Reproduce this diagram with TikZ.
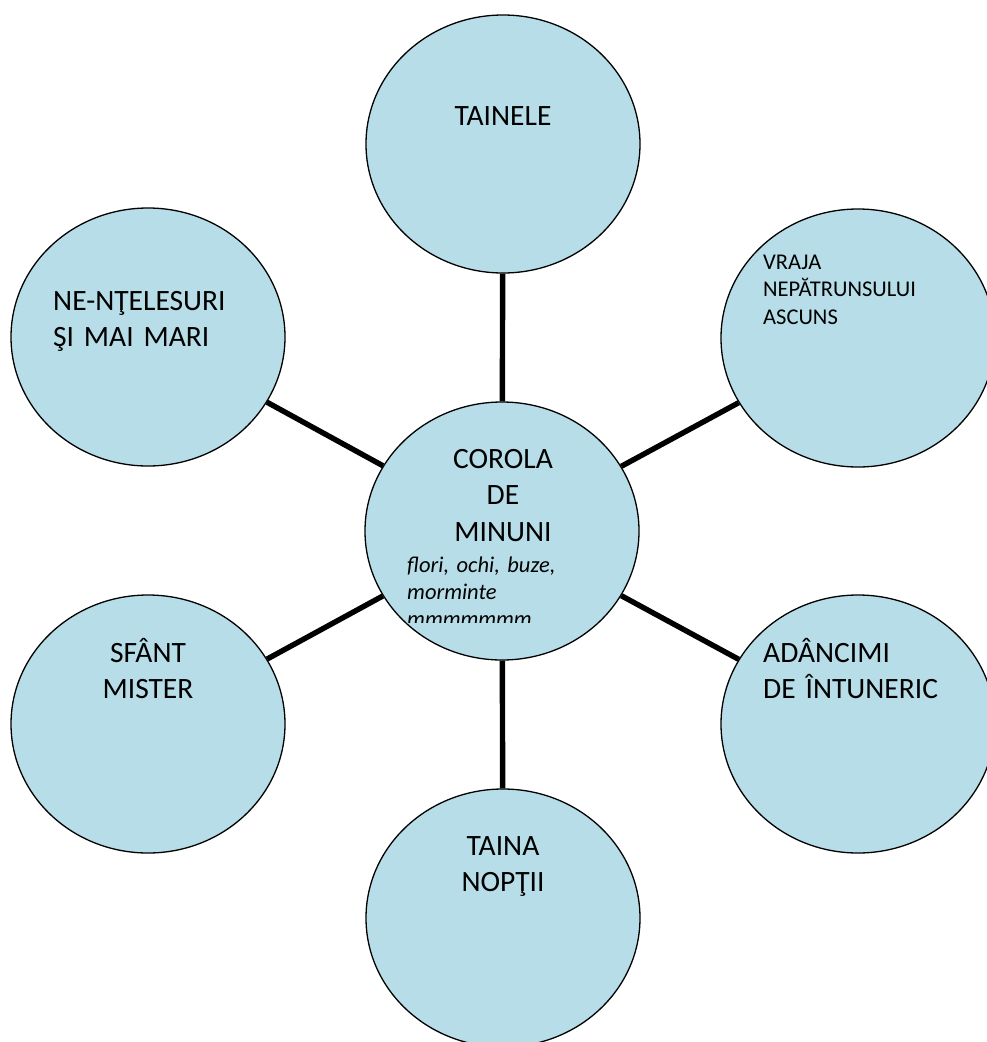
\documentclass[tikz,border=0pt]{standalone}
\usepackage{fontspec}
\setmainfont{Carlito}
\usepackage{xcolor}
\usepackage{tikz}
\usetikzlibrary{shapes.geometric,positioning}

\definecolor{bubblefill}{RGB}{183,222,232}

\begin{document}
\begin{tikzpicture}[
    x=1pt, y=-1pt,
    bubble/.style={ellipse, draw, line width=1.3pt, fill=bubblefill, minimum width=274pt, minimum height=258pt, inner sep=0pt},
    link/.style={line width=5.4pt},
    lbl/.style={inner sep=0pt, text width=230pt, font=\fontsize{29.5}{36.5}\selectfont},
    smalllbl/.style={inner sep=0pt, text width=200pt, font=\fontsize{22.5}{27.5}\selectfont}
]
\useasboundingbox (0,0) rectangle (986,1042);

% Bubbles
\node[bubble] (corola) at (502,531) {};
\node[bubble] (tainele) at (503,144) {};
\node[bubble] (vraja) at (858,338) {};
\node[bubble] (adancimi) at (858,724) {};
\node[bubble] (taina) at (503,918) {};
\node[bubble] (sfant) at (148,724) {};
\node[bubble] (neintelesuri) at (148,337) {};

% Links
\draw[link] (corola) -- (tainele);
\draw[link] (corola) -- (vraja);
\draw[link] (corola) -- (adancimi);
\draw[link] (corola) -- (taina);
\draw[link] (corola) -- (sfant);
\draw[link] (corola) -- (neintelesuri);

% Labels
\node[lbl, align=center, anchor=base] (corola-txt) at (503,468) {COROLA\\DE\\MINUNI};
\begin{scope}
\clip (380,540) rectangle (640,622);
\node[smalllbl, align=left, anchor=base west, font=\fontsize{22.5}{27}\selectfont\itshape] (corola-sub) at (407,572) {flori, ochi, buze,\\morminte\\mmmmmmm};
\end{scope}
\node[lbl, align=center, anchor=base] (tainele-txt) at (503,125) {TAINELE};
\node[smalllbl, align=left, anchor=base west] (vraja-txt) at (763,269) {VRAJA\\NEPĂTRUNSULUI\\ASCUNS};
\node[lbl, align=left, anchor=base west] (adancimi-txt) at (763,662) {ADÂNCIMI\\DE ÎNTUNERIC};
\node[lbl, align=center, anchor=base] (taina-txt) at (503,855) {TAINA\\NOPŢII};
\node[lbl, align=center, anchor=base] (sfant-txt) at (148,662) {SFÂNT\\MISTER};
\node[lbl, align=left, anchor=base west] (neintelesuri-txt) at (53,310) {NE-NŢELESURI\\ŞI MAI MARI};

\end{tikzpicture}
\end{document}
